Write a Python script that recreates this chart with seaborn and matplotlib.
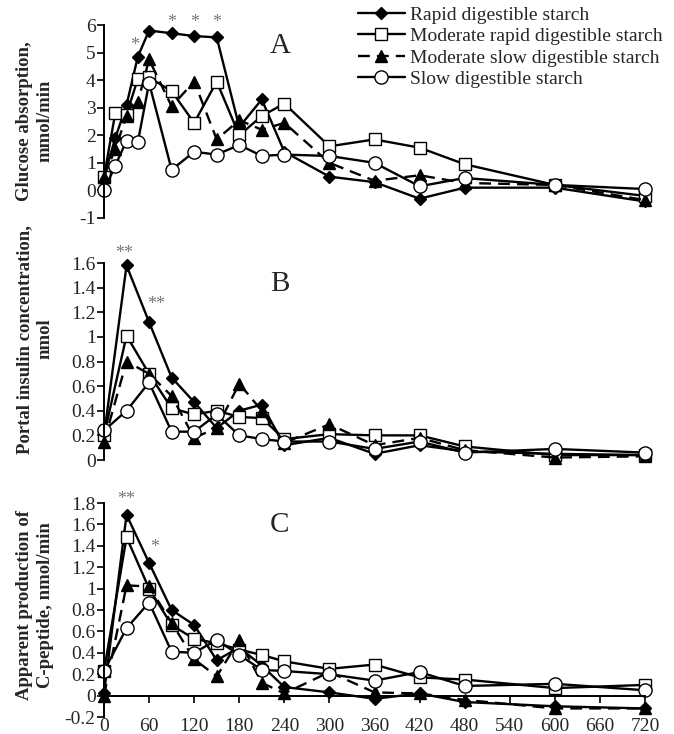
import matplotlib
matplotlib.use("Agg")
import matplotlib.pyplot as plt
import seaborn as sns

# time points (min)
t_a = [0, 15, 30, 45, 60, 90, 120, 150, 180, 210, 240, 300, 360, 420, 480, 600, 720]
t_bc = [0, 30, 60, 90, 120, 150, 180, 210, 240, 300, 360, 420, 480, 600, 720]

series_names = ["Rapid digestible starch", "Moderate rapid digestible starch",
                "Moderate slow digestible starch", "Slow digestible starch"]

# A: glucose absorption, mmol/min
rapid_a = [0.5, 1.9, 3.1, 4.85, 5.8, 5.7, 5.6, 5.55, 2.3, 3.3, 1.4, 0.5, 0.3, -0.3, 0.1, 0.1, -0.4]
modrapid_a = [0.5, 2.8, 2.75, 4.05, 4.1, 3.6, 2.45, 3.95, 2.0, 2.7, 3.15, 1.6, 1.85, 1.55, 0.95, 0.2, -0.2]
modslow_a = [0.5, 1.5, 2.7, 3.2, 4.75, 3.05, 3.95, 1.85, 2.55, 2.2, 2.45, 1.0, 0.35, 0.55, 0.27, 0.2, -0.35]
slow_a = [0.0, 0.9, 1.8, 1.75, 3.9, 0.75, 1.4, 1.3, 1.65, 1.25, 1.3, 1.25, 1.0, 0.15, 0.45, 0.2, 0.05]

# B: portal insulin, nmol
rapid_b = [0.2, 1.58, 1.12, 0.67, 0.47, 0.26, 0.4, 0.45, 0.12, 0.18, 0.05, 0.12, 0.07, 0.05, 0.04]
modrapid_b = [0.2, 1.01, 0.7, 0.42, 0.37, 0.4, 0.35, 0.34, 0.17, 0.21, 0.2, 0.2, 0.11, 0.04, 0.04]
modslow_b = [0.15, 0.8, 0.7, 0.52, 0.18, 0.26, 0.62, 0.4, 0.14, 0.29, 0.12, 0.18, 0.08, 0.02, 0.03]
slow_b = [0.24, 0.4, 0.63, 0.23, 0.23, 0.37, 0.2, 0.17, 0.15, 0.15, 0.09, 0.15, 0.06, 0.09, 0.06]

# C: apparent C-peptide production, nmol/min
rapid_c = [0.02, 1.69, 1.24, 0.8, 0.66, 0.33, 0.45, 0.28, 0.08, 0.03, -0.03, 0.02, -0.06, -0.1, -0.12]
modrapid_c = [0.23, 1.48, 1.0, 0.66, 0.53, 0.49, 0.43, 0.38, 0.32, 0.25, 0.29, 0.17, 0.15, 0.07, 0.1]
modslow_c = [0.0, 1.03, 1.02, 0.68, 0.34, 0.18, 0.52, 0.12, 0.02, 0.22, 0.03, 0.02, -0.04, -0.12, -0.12]
slow_c = [0.23, 0.63, 0.87, 0.41, 0.40, 0.52, 0.38, 0.24, 0.23, 0.2, 0.14, 0.22, 0.09, 0.11, 0.05]

yticks_a = [-1, 0, 1, 2, 3, 4, 5, 6]
yticks_b = [0, 0.2, 0.4, 0.6, 0.8, 1.0, 1.2, 1.4, 1.6]
yticks_c = [-0.2, 0, 0.2, 0.4, 0.6, 0.8, 1.0, 1.2, 1.4, 1.6, 1.8]
xticks_c = list(range(0, 721, 60))

ylabels = ["Glucose absorption,\nmmol/min",
           "Portal insulin concentration,\nnmol",
           "Apparent production of\nC-peptide, nmol/min"]

sns.set_theme(style="white")
plt.rcParams["font.family"] = ["Liberation Serif", "DejaVu Serif"]

styles = [
    dict(marker="D", markersize=6, markerfacecolor="black", linestyle="-"),
    dict(marker="s", markersize=9, markerfacecolor="white", linestyle="-"),
    dict(marker="^", markersize=8.5, markerfacecolor="black", linestyle=(0, (5, 3))),
    dict(marker="o", markersize=9.5, markerfacecolor="white", linestyle="-"),
]

fig = plt.figure(figsize=(6.74, 7.34), dpi=100)
left, width = 104 / 674, 541 / 674
ax_a = fig.add_axes([left, 1 - 218 / 734, width, 193 / 734])
ax_b = fig.add_axes([left, 1 - 460 / 734, width, 197 / 734])
ax_c = fig.add_axes([left, 1 - 717 / 734, width, 214 / 734])

panels = [
    (ax_a, t_a, [rapid_a, modrapid_a, modslow_a, slow_a], yticks_a, (-1, 6), "A"),
    (ax_b, t_bc, [rapid_b, modrapid_b, modslow_b, slow_b], yticks_b, (0, 1.6), "B"),
    (ax_c, t_bc, [rapid_c, modrapid_c, modslow_c, slow_c], yticks_c, (-0.2, 1.8), "C"),
]

for ax, t, vals, yt, ylim, letter in panels:
    for name, v, st in zip(series_names, vals, styles):
        sns.lineplot(x=t, y=v, ax=ax, color="black", linewidth=1.7,
                     markeredgecolor="black", markeredgewidth=1.0,
                     label=name, clip_on=False, **st)
    ax.set_xlim(0, 720)
    ax.set_ylim(*ylim)
    ax.set_yticks(yt)
    ax.set_yticklabels([f"{y:g}" for y in yt], fontsize=14)
    ax.tick_params(axis="y", direction="out", length=5, width=1.2, pad=1, color="black", left=True)
    for s in ["top", "right"]:
        ax.spines[s].set_visible(False)
    ax.spines["left"].set_color("black")
    ax.spines["left"].set_linewidth(1.4)
    ax.set_xlabel("")
    ax.set_ylabel("")
    ax.text(0.325, 0.96, letter, transform=ax.transAxes, fontsize=21,
            ha="center", va="top")
    if ax is not ax_a:
        ax.get_legend().remove()

for ax in (ax_a, ax_b):
    ax.spines["bottom"].set_visible(False)
    ax.set_xticks([])

ax_c.spines["bottom"].set_position(("data", 0))
ax_c.spines["bottom"].set_color("black")
ax_c.spines["bottom"].set_linewidth(1.4)
ax_c.set_xticks(xticks_c)
ax_c.set_xticklabels([str(x) for x in xticks_c], fontsize=14)
ax_c.tick_params(axis="x", direction="out", length=5, width=1.2, pad=11, color="black", bottom=True)

# legend
handles, labels = ax_a.get_legend_handles_labels()
ax_a.get_legend().remove()
fig.legend(handles, labels, loc="upper left", bbox_to_anchor=(358 / 674, 1 - 6 / 734),
           frameon=False, fontsize=14, handlelength=2.4, handletextpad=0.3,
           labelspacing=0.2, borderpad=0, borderaxespad=0)

# significance marks
star = dict(color="#777777", fontsize=13, ha="center", va="center", annotation_clip=False)
ax_a.annotate("*", (41, 5.25), **star)
for x in (90, 120, 150):
    ax_a.annotate("*", (x, 6.1), **star)
ax_b.annotate("**", (27, 1.68), **star)
ax_b.annotate("**", (70, 1.26), **star)
ax_c.annotate("**", (30, 1.83), **star)
ax_c.annotate("*", (68, 1.38), **star)

# y labels
ycent = [121, 339, 605]
for yc, lab in zip(ycent, ylabels):
    fig.text(35 / 674, 1 - yc / 734, lab, rotation=90, ha="center", va="center",
             fontsize=13.5, fontweight="bold", linespacing=1.25, multialignment="center")

fig.savefig("out.png", dpi=100)
